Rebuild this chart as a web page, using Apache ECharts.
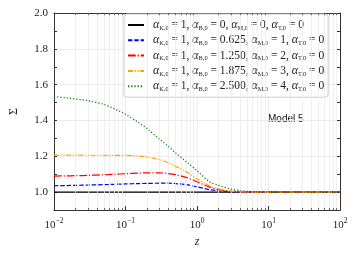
<!DOCTYPE html>
<html><head><meta charset="utf-8">
<script src="https://cdn.jsdelivr.net/npm/echarts@6/dist/echarts.min.js"></script>
<style>html,body{margin:0;padding:0;background:#fff}#c{width:354px;height:253px}</style>
</head><body><div id="c"></div>
<script>
// ---- data ----
const zValues = [0.01,0.015,0.02,0.03,0.05,0.07,0.1,0.15,0.2,0.3,0.4,0.5,0.7,1,1.5,2,3,4,5,7,10,20,50,100];
const sigma0 = [1,1,1,1,1,1,1,1,1,1,1,1,1,1,1,1,1,1,1,1,1,1,1,1];
const sigma1 = [1.036,1.037,1.038,1.040,1.042,1.044,1.046,1.048,1.049,1.050,1.050,1.048,1.042,1.030,1.014,1.008,1.003,1.001,1.000,1.000,1,1,1,1];
const sigma2 = [1.090,1.091,1.092,1.094,1.097,1.100,1.103,1.106,1.108,1.108,1.104,1.098,1.083,1.058,1.028,1.015,1.005,1.002,1.001,1.000,1,1,1,1];
const sigma3 = [1.207,1.207,1.207,1.206,1.206,1.205,1.205,1.202,1.196,1.182,1.163,1.145,1.115,1.075,1.035,1.018,1.006,1.002,1.001,1.000,1,1,1,1];
const sigma4 = [1.534,1.526,1.520,1.510,1.490,1.465,1.435,1.390,1.355,1.295,1.255,1.220,1.172,1.120,1.058,1.038,1.017,1.009,1.005,1.002,1.001,1,1,1];
const legendParams = [
  ['1','0','0','0'],
  ['1','0.625','1','0'],
  ['1','1.250','2','0'],
  ['1','1.875','3','0'],
  ['1','2.500','4','0']
];
const xTickValues = [0.01,0.1,1,10,100];
const xTickExp = ['\u22122','\u22121','0','1','2'];
const yTicks = [1.0,1.2,1.4,1.6,1.8,2.0];
// ---- end data ----

const serif = 'Liberation Serif';
const colors = ['#000000','#0000ff','#ff0000','#ffa500','#008000'];
const lw = 1.2;
const dashes = ['solid',[4.4,1.9],[7.7,1.9,1.2,1.9],[5,1.6,1.2,1.6,1.2,1.6],[1.2,2]];
const seriesArrays = [sigma0,sigma1,sigma2,sigma3,sigma4];
const names = legendParams.map((p,i)=>'s'+i);

function legendText(p){
  return '{a|\u03b1}{s|K,0}{t| = '+p[0]+', }{a|\u03b1}{s|B,0}{t| = '+p[1]+', }{a|\u03b1}{s|M,0}{t| = '+p[2]+', }{a|\u03b1}{s|T,0}{t| = '+p[3]+'}';
}

const minorX = [];
for (let k=-2;k<=1;k++){ for(let m=2;m<=9;m++){ minorX.push(m*Math.pow(10,k)); } }

const series = seriesArrays.map((arr,i)=>({
  name: names[i], type:'line', xAxisIndex:0, yAxisIndex:0,
  data: zValues.map((z,j)=>[z,arr[j]]),
  showSymbol:false, symbol:'none', smooth:0.3,
  lineStyle:{color:colors[i], width:lw, type:dashes[i]},
  itemStyle:{color:colors[i]}, z: 3+i
}));
series.push({
  name:'gridMinor', type:'line', data:[], xAxisIndex:0, yAxisIndex:0, silent:true, z:1,
  markLine:{silent:true, symbol:'none', animation:false, label:{show:false},
    lineStyle:{color:'#ebebeb', width:0.8, type:'solid'},
    data: minorX.map(v=>({xAxis:v}))
  }
});
series.push({
  name:'tickMinor', type:'line', data:[], xAxisIndex:0, yAxisIndex:0, silent:true, z:2,
  markLine:{silent:true, symbol:'none', animation:false, label:{show:false},
    lineStyle:{color:'#444', width:0.8, type:'solid'},
    data: minorX.map(v=>[{coord:[v,0.9]},{coord:[v,0.912]}]).concat(minorX.map(v=>[{coord:[v,2.0]},{coord:[v,1.988]}]))
  }
});

const chart = echarts.init(document.getElementById('c'), null, {renderer:'canvas'});
chart.setOption({
  animation:false,
  backgroundColor:'#fff',
  grid:{left:53, right:14, top:13, bottom:37},
  xAxis:[{
    type:'log', logBase:10, min:0.01, max:100, position:'bottom',
    axisLine:{lineStyle:{color:'#333', width:1}},
    axisTick:{inside:true, length:4, lineStyle:{color:'#333'}},
    splitLine:{show:true, lineStyle:{color:'#e6e6e6', width:0.8}},
    axisLabel:{
      margin:7, color:'#222',
      formatter:(v)=>{ const i = xTickValues.findIndex(t=>Math.abs(Math.log10(t)-Math.log10(v))<1e-6); return i<0?'':'{b|10}{p|'+xTickExp[i]+'}'; },
      rich:{b:{fontFamily:serif, fontSize:11, color:'#222', verticalAlign:'bottom'}, p:{fontFamily:serif, fontSize:7.5, color:'#222', verticalAlign:'top', padding:[0,0,6,0]}}
    },
    name:'z', nameLocation:'middle', nameGap:20,
    nameTextStyle:{fontFamily:serif, fontStyle:'italic', fontSize:12, color:'#222'}
  },{
    type:'log', logBase:10, min:0.01, max:100, position:'top',
    axisLine:{lineStyle:{color:'#333', width:1}},
    axisTick:{inside:true, length:4, lineStyle:{color:'#333'}},
    axisLabel:{show:false}, splitLine:{show:false}
  }],
  yAxis:[{
    type:'value', min:0.9, max:2.0, interval:0.1, position:'left',
    axisLine:{show:true, lineStyle:{color:'#333', width:1}},
    axisTick:{inside:true, length:3, lineStyle:{color:'#333'}},
    splitLine:{show:true, lineStyle:{color:['rgba(0,0,0,0)','#e6e6e6'], width:0.8}},
    axisLabel:{margin:6, color:'#222', fontFamily:serif, fontSize:11,
      formatter:(v)=>{ const t = yTicks.find(y=>Math.abs(y-v)<1e-6); return t===undefined?'':t.toFixed(1); }},
    name:'\u03a3', nameLocation:'middle', nameGap:34, nameRotate:90,
    nameTextStyle:{fontFamily:serif, fontSize:12, color:'#222'}
  },{
    type:'value', min:0.9, max:2.0, interval:0.1, position:'right',
    axisLine:{show:true, lineStyle:{color:'#333', width:1}},
    axisTick:{inside:true, length:3, lineStyle:{color:'#333'}},
    axisLabel:{show:false}, splitLine:{show:false}
  }],
  legend:{
    show:true, left:124, top:14, orient:'vertical', itemGap:3.3, itemWidth:16, itemHeight:10,
    padding:[5,4,5,3],
    backgroundColor:'rgba(255,255,255,0.85)', borderColor:'#cccccc', borderWidth:1, borderRadius:3,
    itemStyle:{opacity:0},
    data: names.slice(),
    formatter:(n)=>legendText(legendParams[names.indexOf(n)]),
    textStyle:{fontFamily:serif, fontSize:11.5, color:'#222', padding:[0,0,0,4],
      rich:{a:{fontFamily:serif, fontSize:12, fontStyle:'italic', color:'#222'},
            s:{fontFamily:serif, fontSize:6.3, color:'#222', verticalAlign:'bottom', padding:[4,0,0,0]},
            t:{fontFamily:serif, fontSize:11.5, color:'#222'}}}
  },
  graphic:[{type:'text', left:268, top:114, style:{text:'Model 5', font:'10px "Liberation Sans"', fill:'#111'}}],
  series: series
});
</script></body></html>
